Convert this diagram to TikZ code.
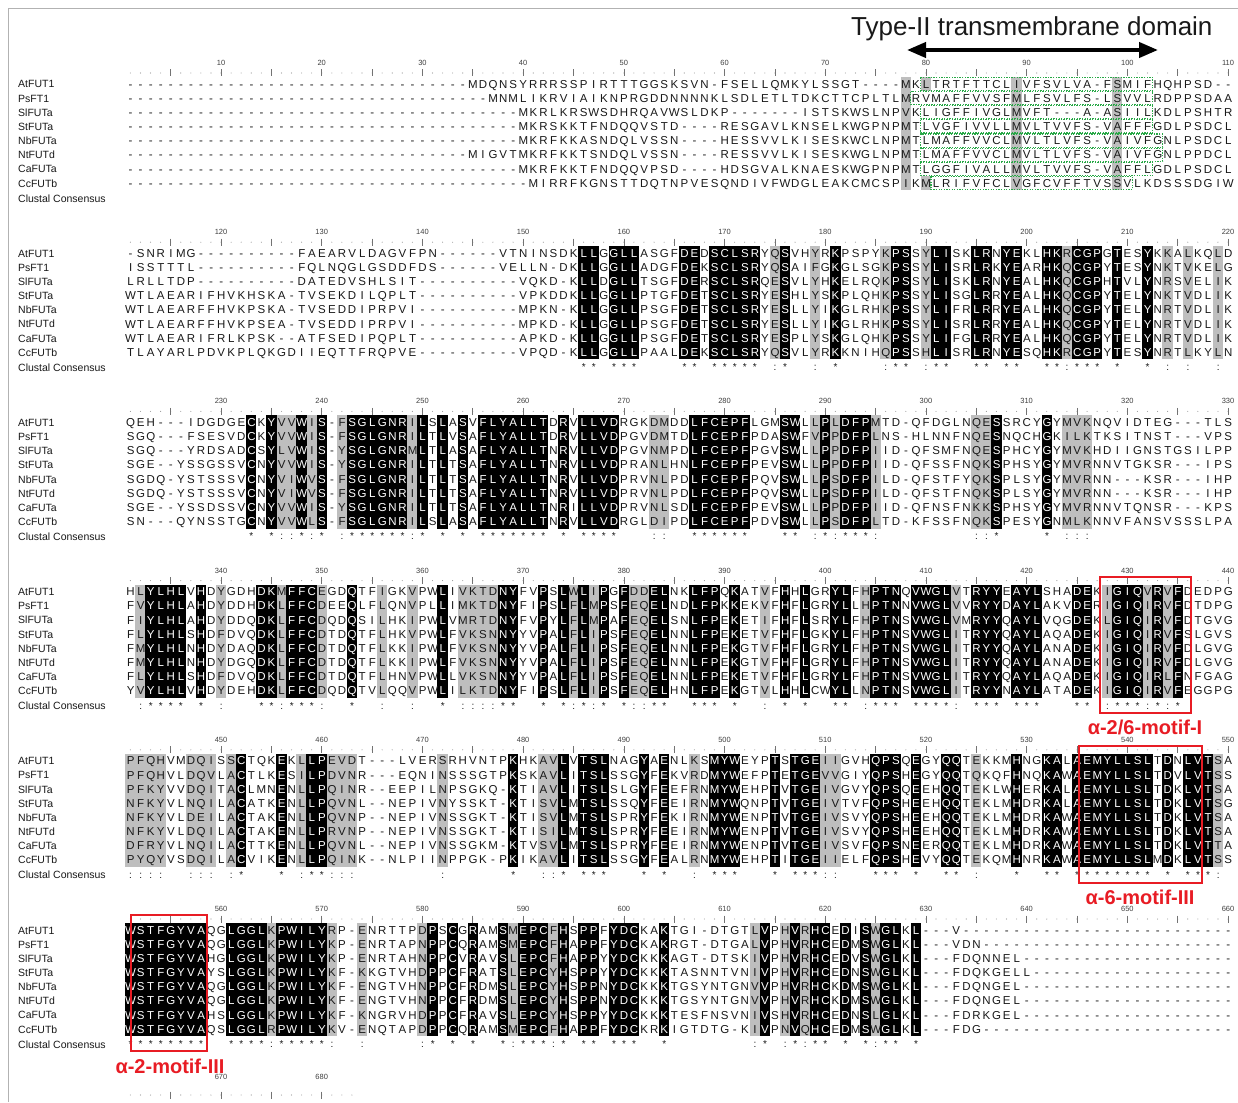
\documentclass[tikz,border=0pt]{standalone}
\usepackage{fontspec}
\setmainfont{Liberation Sans}
\usetikzlibrary{arrows.meta}

\definecolor{shgray}{RGB}{190,190,190}
\definecolor{motifred}{RGB}{232,28,36}
\definecolor{tmgreen}{RGB}{40,168,70}
\definecolor{seqink}{RGB}{25,25,25}

\newcount\colnum
\newcount\blkoff
\newcount\endcol
\newcount\padcnt
\newdimen\cw
\cw=10.07pt

\def\seqchr#1{\hbox to\cw{\hss\ifcsname bk\the\colnum\endcsname\color{white}\fi#1\hss}}
\def\seqloop#1{\ifx\relax#1\else\advance\colnum by 1\relax\seqchr{#1}\expandafter\seqloop\fi}
\def\dashes#1{\padcnt=#1\relax\dashloop}
\def\dashloop{\ifnum\padcnt>0\relax\advance\padcnt by -1\relax\advance\colnum by 1\relax\hbox to\cw{\hss-\hss}\expandafter\dashloop\fi}
\def\lencheck{\endcol=\blkoff\advance\endcol by 110\relax\ifnum\colnum=\endcol\else\textcolor{red}{ERR}\fi}
\def\consloop{\ifnum\colnum<\endcol\advance\colnum by 1\relax\hbox to\cw{\hss\ifcsname bk\the\colnum\endcsname*\else\ifcsname gy\the\colnum\endcsname:\fi\fi\hss}\expandafter\consloop\fi}
\def\consrow{\colnum=\blkoff\endcol=\blkoff\advance\endcol by 110\relax\consloop}

\def\yo{169.2}

\def\gyA{78,89,99}
\def\bkB{46,47,49,50,51,56,57,59,60,61,62,63,66,71,77,78,81,82,85,86,88,89,92,93,95,96,97,99,102}
\def\gyB{65,69,76,80,94,104,106,109}
\def\bkC{13,15,18,20,23,24,25,26,27,28,30,32,34,36,37,38,39,40,41,42,44,46,47,48,49,57,58,59,60,61,62,66,67,70,72,73,74,87,92}
\def\gyC{16,17,19,22,29,53,54,69,71,75,85,86,94,95,96}
\def\bkD{3,4,5,6,8,14,15,17,18,19,23,32,38,39,42,44,46,48,50,53,54,57,58,59,61,66,68,71,72,75,76,77,79,80,81,82,85,86,87,89,90,91,95,96,99,100,101,103,105}
\def\gyD{2,10,16,20,26,29,34,35,36,37,45,47,51,52,64,74,83,98,102,104}
\def\bkE{12,16,19,20,39,44,46,47,48,52,54,59,60,61,65,67,68,69,75,76,77,79,82,83,89,92,93,95,96,97,98,99,100,101,102,104,106,107,108}
\def\gyE{1,2,3,4,7,8,9,11,18,21,22,23,32,42,43,57,70,71,85,109}
\def\bkF{1,2,3,4,5,6,7,8,11,12,13,14,16,17,18,19,20,31,33,35,38,40,41,42,44,46,47,49,50,51,54,64,67,69,70,72,74,76,77,79}
\def\gyF{15,21,24,30,39,43,63,66,68,75}

\newcommand\regcols[3]{\foreach \c in #3 {\expandafter\gdef\csname #1\the\numexpr#2+\c\relax\endcsname{}}}
\regcols{bk}{110}{\bkB}\regcols{gy}{110}{\gyB}
\regcols{bk}{220}{\bkC}\regcols{gy}{220}{\gyC}
\regcols{bk}{330}{\bkD}\regcols{gy}{330}{\gyD}
\regcols{bk}{440}{\bkE}\regcols{gy}{440}{\gyE}
\regcols{bk}{550}{\bkF}\regcols{gy}{550}{\gyF}

\newcommand\shadecols[3]{\foreach \c in #3 {\fill[#2] ({125.2+(\c-1)*10.07},{77+\yo*#1}) rectangle ++(10.4,113.2);}}

\newcommand\seqline[5]{\node[seqtext] (s#1r#2) at (125.365,{88.1+14.15*(#2-1)+\yo*#1}) {\blkoff=\numexpr110*#1\relax\colnum=\blkoff\dashes{#3}\seqloop#4\relax\dashes{#5}\lencheck};}

\newcommand\ruler[1]{%
  \foreach \l in {1,...,110} {\fill[black!40] ({130.4+(\l-1)*10.07},{73+\yo*#1}) circle[radius=0.55pt];}
  \foreach \l in {5,10,...,110} {\draw[black!55, line width=0.6pt] ({130.4+(\l-1)*10.07},{69.5+\yo*#1}) -- ++(0,7);}
  \foreach \k in {1,...,11} {\node[rulenum] (rn#1-\k) at ({130.4+(10*\k-1)*10.07},{65.5+\yo*#1}) {\the\numexpr110*#1+10*\k\relax};}%
}

\newcommand\tmrow[3]{\draw[tmbox] ({125.365+(#2-1)*10.07},{84+14.15*(#1-1)-6.6}) rectangle ({125.365+#3*10.07},{84+14.15*(#1-1)+6.6});}

\begin{document}
\begin{tikzpicture}[x=1pt,y=-1pt,
  seqtext/.style={anchor=base west, inner sep=0pt, font=\fontsize{11.5}{12}\selectfont, text=seqink},
  nametext/.style={anchor=base west, inner sep=0pt, font=\fontsize{10.5}{12}\selectfont, text=seqink},
  constext/.style={anchor=base west, inner sep=0pt, font=\fontsize{10}{12}\selectfont, text=seqink},
  rulenum/.style={anchor=base, inner sep=0pt, font=\fontsize{7.5}{9}\selectfont, text=black!75},
  motifbox/.style={draw=motifred, line width=1.8pt},
  motiflabel/.style={anchor=base, inner sep=0pt, font=\fontsize{20}{24}\selectfont\bfseries, text=motifred},
  tmbox/.style={draw=tmgreen, line width=1.1pt, dash pattern=on 1.3pt off 1.3pt},
  frameline/.style={draw=black!30, line width=0.8pt}]
\useasboundingbox (0,0) rectangle (1238,1102);
\fill[white] (0,0) rectangle (1238,1102);
\draw[frameline] (8,1102) -- (8,8) -- (1238,8);

% title and arrow
\node[font=\fontsize{26}{30}\selectfont, anchor=base west, inner sep=0pt, text=black!90] (title) at (851,36) {Type-II transmembrane domain};
\coordinate (tmL) at (907,50);
\coordinate (tmR) at (1158,50);
\draw[line width=4pt, {Triangle[length=19pt,width=15pt]}-{Triangle[length=19pt,width=15pt]}] (tmL) -- (tmR);

% shading
\shadecols{0}{shgray}{\gyA}
\fill[shgray] ({125.365+79*10.07},77) rectangle ++(10.07,14.15);
\fill[shgray] ({125.365+79*10.07},{77+7*14.15}) rectangle ++(10.07,14.15);
\shadecols{1}{shgray}{\gyB}\shadecols{1}{black}{\bkB}
\shadecols{2}{shgray}{\gyC}\shadecols{2}{black}{\bkC}
\shadecols{3}{shgray}{\gyD}\shadecols{3}{black}{\bkD}
\shadecols{4}{shgray}{\gyE}\shadecols{4}{black}{\bkE}
\shadecols{5}{shgray}{\gyF}\shadecols{5}{black}{\bkF}

% names, rulers, consensus
\foreach \b in {0,...,5} {
  \foreach \nm [count=\r] in {AtFUT1,PsFT1,SlFUTa,StFUTa,NbFUTa,NtFUTd,CaFUTa,CcFUTb} {
    \node[nametext] (n\b-\r) at (18,{88+14.15*(\r-1)+\yo*\b}) {\nm};
  }
  \node[nametext] (cl\b) at (18,{202+\yo*\b}) {Clustal Consensus};
  \node[constext] (cs\b) at (125.365,{201.5+\yo*\b}) {\blkoff=\numexpr110*\b\relax\consrow};
  \ruler{\b}
}
% truncated ruler at the bottom
\foreach \l in {1,...,23} {\fill[black!40] ({130.4+(\l-1)*10.07},1095) circle[radius=0.55pt];}
\foreach \l in {5,10,15,20} {\draw[black!55, line width=0.6pt] ({130.4+(\l-1)*10.07},1091.5) -- ++(0,7);}
\node[rulenum] (rn670) at ({130.4+9*10.07},1079) {670};
\node[rulenum] (rn680) at ({130.4+19*10.07},1079) {680};

% block 1
\seqline{0}{1}{34}{MDQNSYRRRSSPIRTTTGGSKSVN-FSELLQMKYLSSGT----MKLTRTFTTCLIVFSVLVA-FSMIFHQHPSD}{2}
\seqline{0}{2}{36}{MNMLIKRVIAIKNPRGDDNNNNKLSDLETLTDKCTTCPLTLMRVMAFFVVSFMLFSVLFS-LSVVLRDPPSDAA}{0}
\seqline{0}{3}{39}{MKRLKRSWSDHRQAVWSLDKP-------ISTSKWSLNPVKLIGFFIVGLMVFT---A-ASIILKDLPSHTR}{0}
\seqline{0}{4}{39}{MKRSKKTFNDQQVSTD----RESGAVLKNSELKWGPNPMTLVGFIVVLLMVLTVVFS-VAFFFGDLPSDCL}{0}
\seqline{0}{5}{39}{MKRFKKASNDQLVSSN----HESSVVLKISESKWCLNPMTLMAFFVVCLMVLTLVFS-VAIVFGNLPSDCL}{0}
\seqline{0}{6}{34}{MIGVTMKRFKKTSNDQLVSSN----RESSVVLKISESKWGLNPMTLMAFFVVCLMVLTLVFS-VAIVFGNLPPDCL}{0}
\seqline{0}{7}{39}{MKRFKKTFNDQQVPSD----HDSGVALKNAESKWGPNPMTLGGFIVALLMVLTVVFS-VAFFLGDLPSDCL}{0}
\seqline{0}{8}{40}{MIRRFKGNSTTDQTNPVESQNDIVFWDGLEAKCMCSPIKMLRIFVFCLVGFCVFFTVSSVLKDSSSDGIW}{0}

% block 2
\seqline{1}{1}{1}{SNRIMG----------FAEARVLDAGVFPN------VTNINSDKLLGGLLASGFDEDSCLSRYQSVHYRKPSPYKPSSYLISKLRNYEKLHKRCGPGTESYKKALKQLD}{0}
\seqline{1}{2}{0}{ISSTTTL----------FQLNQGLGSDDFDS------VELLN-DKLLGGLLADGFDEKSCLSRYQSAIFGKGLSGKPSSYLISRLRKYEARHKQCGPYTESYNKTVKELG}{0}
\seqline{1}{3}{0}{LRLLTDP----------DATEDVSHLSIT----------VQKD-KLLDGLLTSGFDERSCLSRQESVLYHKELRQKPSSYLISKLRNYEALHKQCGPHTVLYNRSVELIK}{0}
\seqline{1}{4}{0}{WTLAEARIFHVKHSKA-TVSEKDILQPLT----------VPKDDKLLGGLLPTGFDETSCLSRYESHLYSKPLQHKPSSYLISGLRRYEALHKQCGPYTELYNKTVDLIK}{0}
\seqline{1}{5}{0}{WTLAEARFFHVKPSKA-TVSEDDIPRPVI----------MPKN-KLLGGLLPSGFDETSCLSRYESLLYIKGLRHKPSSYLIFRLRRYEALHKQCGPYTELYNRTVDLIK}{0}
\seqline{1}{6}{0}{WTLAEARFFHVKPSEA-TVSEDDIPRPVI----------MPKD-KLLGGLLPSGFDETSCLSRYESLLYIKGLRHKPSSYLISRLRRYEALHKQCGPYTELYNRTVDLIK}{0}
\seqline{1}{7}{0}{WTLAEARIFRLKPSK--ATFSEDIPQPLT----------APKD-KLLGGLLPSGFDETSCLSRYESPLYSKGLQHKPSSYLIFGLRRYEALHKQCGPYTELYNRTVDLIK}{0}
\seqline{1}{8}{0}{TLAYARLPDVKPLQKGDIIEQTTFRQPVE----------VPQD-KLLGGLLPAALDEKSCLSRYQSVLYRKKNIHQPSSHLISRLRNYESQHKRCGPYTESYNRTLKYLN}{0}

% block 3
\seqline{2}{1}{0}{QEH---IDGDGECKYVVWIS-FSGLGNRILSLASVFLYALLTDRVLLVDRGKDMDDLFCEPFLGMSWLLPLDFPMTD-QFDGLNQESSRCYGYMVKNQVIDTEG---TLS}{0}
\seqline{2}{2}{0}{SGQ---FSESVDCKYVVWIS-FSGLGNRILTLVSAFLYALLTDRVLLVDPGVDMTDLFCEPFPDASWFVPPDFPLNS-HLNNFNQESNQCHGKILKTKSITNST---VPS}{0}
\seqline{2}{3}{0}{SGQ---YRDSADCSYLVWIS-YSGLGNRMLTLASAFLYALLTNRVLLVDPGVNMPDLFCEPFPGVSWLLPPDFPIID-QFSMFNQESPHCYGYMVKHDIIGNSTGSILPP}{0}
\seqline{2}{4}{0}{SGE--YSSGSSVCNYVVWIS-YSGLGNRILTLTSAFLYALLTNRVLLVDPRANLHNLFCEPFPEVSWLLPPDFPIID-QFSSFNQKSPHSYGYMVRNNVTGKSR---IPS}{0}
\seqline{2}{5}{0}{SGDQ-YSTSSSVCNYVIWVS-FSGLGNRILTLTSAFLYALLTNRVLLVDPRVNLPDLFCEPFPQVSWLLPSDFPILD-QFSTFYQKSPLSYGYMVRNN---KSR---IHP}{0}
\seqline{2}{6}{0}{SGDQ-YSTSSSVCNYVIWVS-FSGLGNRILTLTSAFLYALLTNRVLLVDPRVNLPDLFCEPFPQVSWLLPSDFPILD-QFSTFNQKSPLSYGYMVRNN---KSR---IHP}{0}
\seqline{2}{7}{0}{SGE--YSSDSSVCNYVVWIS-YSGLGNRILTLTSAFLYALLTNRILLVDPRVNLSDLFCEPFPEVSWLLPPDFPIID-QFNSFNKKSPHSYGYMVRNNVTQNSR---KPS}{0}
\seqline{2}{8}{0}{SN---QYNSSTGCNYVVWLS-FSGLGNRILSLASAFLYALLTNRVLLVDRGLDIPDLFCEPFPDVSWLLPSDFPLTD-KFSSFNQKSPESYGNMLKNNVFANSVSSSLPA}{0}

% block 4
\seqline{3}{1}{0}{HLYLHLVHDYGDHDKMFFCEGDQTFIGKVPWLIVKTDNYFVPSLWLIPGFDDELNKLFPQKATVFHHLGRYLFHPTNQVWGLVTRYYEAYLSHADEKIGIQVRVFDEDPG}{0}
\seqline{3}{2}{0}{FVYLHLAHDYDDHDKLFFCDEEQLFLQNVPLLIMKTDNYFIPSLFLMPSFEQELNDLFPKKEKVFHFLGRYLLHPTNNVWGLVVRYYDAYLAKVDERIGIQIRVFDTDPG}{0}
\seqline{3}{3}{0}{FIYLHLAHDYDDQDKLFFCDQDQSILHKIPWLVMRTDNYFVPYLFLMPAFEQELSNLFPEKETIFHFLSRYLFHPTNSVWGLVMRYYQAYLVQGDEKLGIQIRVFDTGVG}{0}
\seqline{3}{4}{0}{FLYLHLSHDFDVQDKLFFCDTDQTFLHKVPWLFVKSNNYYVPALFLIPSFEQELNNLFPEKETVFHFLGKYLFHPTNSVWGLITRYYQAYLAQADEKIGIQIRVFSLGVS}{0}
\seqline{3}{5}{0}{FMYLHLNHDYDAQDKLFFCDTDQTFLKKIPWLFVKSNNYYVPALFLIPSFEQELNNLFPEKGTVFHFLGRYLFHPTNSVWGLITRYYQAYLANADEKIGIQIRVFDLGVG}{0}
\seqline{3}{6}{0}{FMYLHLNHDYDGQDKLFFCDTDQTFLKKIPWLFVKSNNYYVPALFLIPSFEQELNNLFPEKGTVFHFLGRYLFHPTNSVWGLITRYYQAYLANADEKIGIQIRVFDLGVG}{0}
\seqline{3}{7}{0}{FLYLHLSHDFDVQDKLFFCDTDQTFLHNVPWLLVKSNNYYVPALFLIPSFEQELNNLFPEKETVFHFLGRYLFHPTNSVWGLITRYYQAYLAQADEKIGIQIRLFNFGAG}{0}
\seqline{3}{8}{0}{YVYLHLVHDYDEHDKLFFCDQDQTVLQQVPWLILKTDNYFIPSLFLIPSFEQELHNLFPEKGTVLHHLCWYLLNPTNSVWGLITRYYNAYLATADEKIGIQIRVFEGGPG}{0}

% block 5
\seqline{4}{1}{0}{PFQHVMDQISSCTQKEKLLPEVDT---LVERSRHVNTPKHKAVLVTSLNAGYAENLKSMYWEYPTSTGEIIGVHQPSQEGYQQTEKKMHNGKALAEMYLLSLTDNLVTSA}{0}
\seqline{4}{2}{0}{PFQHVLDQVLACTLKESILPDVNR---EQNINSSSGTPKSKAVLITSLSSGYFEKVRDMYWEFPTETGEVVGIYQPSHEGYQQTQKQFHNQKAWAEMYLLSLTDVLVTSS}{0}
\seqline{4}{3}{0}{PFKYVVDQITACLMNENLLPQINR--EEPILNPSGKQ-KTIAVLITSLSLGYFEEFRNMYWEHPTVTGEIVGVYQPSQEEHQQTEKLWHERKALAEMYLLSLTDKLVTSA}{0}
\seqline{4}{4}{0}{NFKYVLNQILACATKENLLPQVNL--NEPIVNYSSKT-KTISVLMTSLSSQYFEEIRNMYWQNPTVTGEIVTVFQPSHEEHQQTEKLMHDRKALAEMYLLSLTDKLVTSG}{0}
\seqline{4}{5}{0}{NFKYVLDEILACTAKENLLPQVNP--NEPIVNSSGKT-KTISVLMTSLSPRYFEKIRNMYWENPTVTGEIVSVYQPSHEEHQQTEKLMHDRKAWAEMYLLSLTDKLVTSA}{0}
\seqline{4}{6}{0}{NFKYVLDQILACTAKENLLPRVNP--NEPIVNSSGKT-KTISILMTSLSPRYFEEIRNMYWENPTVTGEIVSVYQPSHEEHQQTEKLMHDRKAWAEMYLLSLTDKLVTSA}{0}
\seqline{4}{7}{0}{DFRYVLNQILACTTKENLLPQVNL--NEPIVNSSGKM-KTVSVLMTSLSPRYFEEIRNMYWENPTVTGEIVSVFQPSNEERQQTEKLMHDRKAWAEMYLLSLTDKLVTTA}{0}
\seqline{4}{8}{0}{PYQYVSDQILACVIKENLLPQINK--NLPIINPPGK-PKIKAVLITSLSSGYFEALRNMYWEHPTITGEIIELFQPSHEVYQQTEKQMHNRKAWAEMYLLSLMDKLVTSS}{0}

% block 6
\seqline{5}{1}{0}{WSTFGYVAQGLGGLKPWILYRP-ENRTTPDPSCGRAMSMEPCFHSPPFYDCKAKTGI-DTGTLVPHVRHCEDISWGLKL---V}{27}
\seqline{5}{2}{0}{WSTFGYVAQGLGGLKPWILYKP-ENRTAPNPPCQRAMSMEPCFHAPPFYDCKAKRGT-DTGALVPHVRHCEDMSWGLKL---VDN}{25}
\seqline{5}{3}{0}{WSTFGYVAHGLGGLKPWILYKP-ENRTAHNPPCVRAVSLEPCFHAPPYYDCKKKAGT-DTSKIVPHVRHCEDVSWGLKL---FDQNNEL}{21}
\seqline{5}{4}{0}{WSTFGYVAYSLGGLKPWILYKF-KKGTVHDPPCFRATSLEPCYHSPPYYDCKKKTASNNTVNIVPHVRHCEDNSWGLKL---FDQKGELL}{20}
\seqline{5}{5}{0}{WSTFGYVAQGLGGLKPWILYKF-ENGTVHNPPCFRDMSLEPCYHSPPNYDCKKKTGSYNTGNVVPHVRHCKDMSWGLKL---FDQNGEL}{21}
\seqline{5}{6}{0}{WSTFGYVAQGLGGLKPWILYKF-ENGTVHNPPCFRDMSLEPCYHSPPNYDCKKKTGSYNTGNVVPHVRHCKDMSWGLKL---FDQNGEL}{21}
\seqline{5}{7}{0}{WSTFGYVAHSLGGLKPWILYKF-KNGRVHDPPCFRAVSLEPCYHSPPYYDCKKKTESFNSVNIVSHVRHCEDNSLGLKL---FDRKGEL}{21}
\seqline{5}{8}{0}{WSTFGYVAQSLGGLRPWILYKV-ENQTAPDPPCQRAMSMEPCFHAPPFYDCKRKIGTDTG-KIVPNVQHCEDMSWGLKL---FDG}{25}

% transmembrane boxes
\tmrow{1}{80}{102}
\tmrow{2}{79}{102}
\tmrow{3}{80}{102}
\tmrow{4}{80}{102}
\tmrow{5}{80}{103}
\tmrow{6}{80}{103}
\tmrow{7}{80}{102}
\tmrow{8}{81}{100}

% motif boxes
\draw[motifbox] (1100,577) rectangle (1191,713);
\node[motiflabel] (m1) at (1145,734) {α-2/6-motif-I};
\draw[motifbox] (1079,746) rectangle (1202,883);
\node[motiflabel] (m2) at (1140,904) {α-6-motif-III};
\draw[motifbox] (131,915) rectangle (207,1051);
\node[motiflabel] (m3) at (170,1073) {α-2-motif-III};
\end{tikzpicture}
\end{document}
